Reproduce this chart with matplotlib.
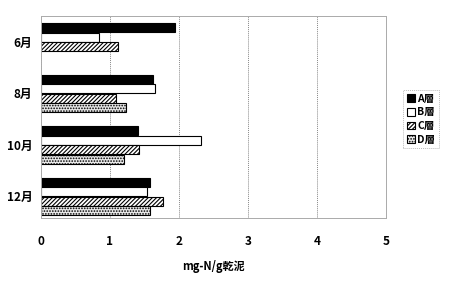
import numpy as np
import matplotlib
matplotlib.use('Agg')
import matplotlib.pyplot as plt

plt.rcParams['font.family'] = ['Noto Sans CJK JP', 'DejaVu Sans']
plt.rcParams['hatch.linewidth'] = 0.8

# data
months = ['6月', '8月', '10月', '12月']
layers = ['A層', 'B層', 'C層', 'D層']
A_vals = [1.94, 1.63, 1.40, 1.58]
B_vals = [0.84, 1.65, 2.32, 1.53]
C_vals = [1.11, 1.09, 1.42, 1.77]
D_vals = [np.nan, 1.23, 1.21, 1.58]
x_ticks = [0, 1, 2, 3, 4, 5]
x_label = 'mg-N/g乾泥'

series = [A_vals, B_vals, C_vals, D_vals]
styles = [
    dict(color='black', edgecolor='black'),
    dict(color='white', edgecolor='black'),
    dict(color='white', edgecolor='black', hatch='////////'),
    dict(color='#e8e8e8', edgecolor='black', hatch='......'),
]

fig = plt.figure(figsize=(4.5, 2.82), dpi=100)
ax = fig.add_axes([0.091, 0.227, 0.767, 0.716])

h = 0.185
y = np.arange(len(months))
for j, vals in enumerate(series):
    ax.barh(y + (j - 1.5) * h, vals, height=h * 0.95, linewidth=0.8,
            label=layers[j], **styles[j])

ax.set_xlim(0, 5)
ax.set_ylim(3.42, -0.5)
ax.set_xticks(x_ticks)
ax.set_xticklabels([str(t) for t in x_ticks], fontsize=8.5, fontweight='bold')
ax.set_yticks(y)
ax.set_yticklabels(months, fontsize=8.5, fontweight='bold')
ax.tick_params(axis='x', length=0, pad=12)
ax.tick_params(axis='y', length=0, pad=6)
ax.set_xlabel(x_label, fontsize=8, fontweight='bold', labelpad=9)

ax.grid(axis='x', color='#888888', linestyle=(0, (1, 1)), linewidth=0.7)
ax.set_axisbelow(True)
for s in ax.spines.values():
    s.set_color('#aaaaaa')
    s.set_linestyle((0, (1, 1)))
    s.set_linewidth(0.7)

leg = fig.legend(loc='center', bbox_to_anchor=(0.936, 0.577),
                 handlelength=0.8, handleheight=0.8, handletextpad=0.2,
                 labelspacing=0.35, borderpad=0.35, fancybox=False,
                 prop={'weight': 'bold', 'size': 7.5})
leg.get_frame().set_edgecolor('#aaaaaa')
leg.get_frame().set_linestyle((0, (1, 1)))
leg.get_frame().set_linewidth(0.7)

fig.savefig('out.png', dpi=100)
